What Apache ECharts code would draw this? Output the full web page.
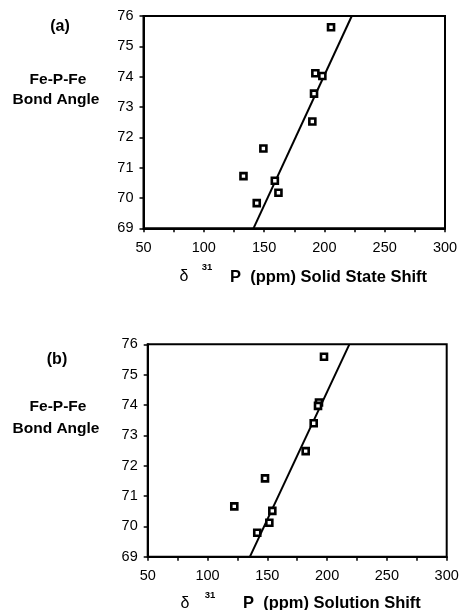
<!DOCTYPE html>
<html>
<head>
<meta charset="utf-8">
<script src="https://cdn.jsdelivr.net/npm/echarts@6/dist/echarts.min.js"></script>
<style>
  html, body { margin: 0; padding: 0; background: #fff; }
  #chart { width: 462px; height: 610px; }
</style>
</head>
<body>
<div id="chart"></div>
<script>
// (a) Fe-P-Fe bond angle against solid-state 31P shift
const solidShift = [205.5, 192.5, 198.3, 191.4, 190.0, 149.4, 132.9, 158.9, 161.9, 143.9];
const solidAngle = [75.63, 74.11, 74.02, 73.44, 72.52, 71.63, 70.72, 70.57, 70.17, 69.83];
const solidFitX = [141.2, 222.7];
const solidFitY = [69, 76];

// (b) Fe-P-Fe bond angle against solution 31P shift
const solutionShift = [197.4, 193.2, 192.4, 188.8, 182.1, 148.1, 122.4, 154.2, 151.7, 141.6];
const solutionAngle = [75.59, 74.08, 73.97, 73.40, 72.48, 71.58, 70.66, 70.51, 70.12, 69.79];
const solutionFitX = [135.5, 218.6];
const solutionFitY = [69, 76];

const xTicks = [50, 100, 150, 200, 250, 300];
const yTicks = [69, 70, 71, 72, 73, 74, 75, 76];

const FONT = '"Liberation Sans", Arial, Helvetica, sans-serif';

function pairs(xs, ys) { return xs.map((x, i) => [x, ys[i]]); }

function xAxisDef(gridIndex) {
  return {
    gridIndex, type: 'value',
    min: xTicks[0], max: xTicks[xTicks.length - 1], interval: 50,
    axisLine: { show: true, onZero: false, lineStyle: { color: '#000', width: 2 } },
    axisTick: { show: true, inside: false, length: 4, lineStyle: { color: '#000', width: 1.5 } },
    minorTick: { show: true, splitNumber: 2, length: 4, lineStyle: { color: '#000', width: 1.5 } },
    splitLine: { show: false },
    axisLabel: { color: '#000', fontFamily: FONT, fontSize: 14.5, margin: 12 }
  };
}
function yAxisDef(gridIndex) {
  return {
    gridIndex, type: 'value',
    min: yTicks[0], max: yTicks[yTicks.length - 1], interval: 1,
    axisLine: { show: true, onZero: false, lineStyle: { color: '#000', width: 2 } },
    axisTick: { show: true, inside: false, length: 4, lineStyle: { color: '#000', width: 1.5 } },
    splitLine: { show: false },
    axisLabel: { color: '#000', fontFamily: FONT, fontSize: 14.5, margin: 10 }
  };
}

// small square markers with a heavy outline and a tiny open centre
const marker = {
  type: 'scatter', symbol: 'rect', symbolSize: 6,
  itemStyle: { color: '#fff', borderColor: '#000', borderWidth: 2.6, opacity: 1 },
  z: 3
};
const fit = {
  type: 'line', symbol: 'none', clip: true,
  lineStyle: { color: '#000', width: 2 }, z: 2
};

function label(text, x, y, size, bold, align) {
  return {
    type: 'text', x, y,
    style: {
      text, fill: '#000', font: (bold ? 'bold ' : '') + size + 'px ' + FONT,
      textAlign: align || 'left', textVerticalAlign: 'middle'
    }
  };
}

const chart = echarts.init(document.getElementById('chart'), null, { renderer: 'canvas' });
chart.setOption({
  animation: false,
  backgroundColor: '#fff',
  grid: [
    { left: 143.5, right: 17, top: 16, height: 212.3, show: true, borderColor: '#000', borderWidth: 2, backgroundColor: 'transparent' },
    { left: 147.7, right: 15.3, top: 344.3, height: 212.4, show: true, borderColor: '#000', borderWidth: 2, backgroundColor: 'transparent' }
  ],
  xAxis: [xAxisDef(0), xAxisDef(1)],
  yAxis: [yAxisDef(0), yAxisDef(1)],
  series: [
    Object.assign({}, fit, { xAxisIndex: 0, yAxisIndex: 0, data: pairs(solidFitX, solidFitY) }),
    Object.assign({}, marker, { xAxisIndex: 0, yAxisIndex: 0, data: pairs(solidShift, solidAngle) }),
    Object.assign({}, fit, { xAxisIndex: 1, yAxisIndex: 1, data: pairs(solutionFitX, solutionFitY) }),
    Object.assign({}, marker, { xAxisIndex: 1, yAxisIndex: 1, data: pairs(solutionShift, solutionAngle) })
  ],
  graphic: [
    label('(a)', 60, 27, 16, true, 'center'),
    label('Fe-P-Fe', 58, 80, 15.5, true, 'center'),
    label('Bond Angle', 56, 100, 15.5, true, 'center'),
    label('δ', 184, 277, 16, false, 'center'),
    label('31', 207, 267, 9.5, true, 'center'),
    label('P  (ppm) Solid State Shift', 230, 277, 16.5, true, 'left'),

    label('(b)', 57, 360, 16, true, 'center'),
    label('Fe-P-Fe', 58, 407, 15.5, true, 'center'),
    label('Bond Angle', 56, 429, 15.5, true, 'center'),
    label('δ', 185, 604, 16, false, 'center'),
    label('31', 210, 595, 9.5, true, 'center'),
    label('P  (ppm) Solution Shift', 243, 603, 16.5, true, 'left')
  ]
});
</script>
</body>
</html>
